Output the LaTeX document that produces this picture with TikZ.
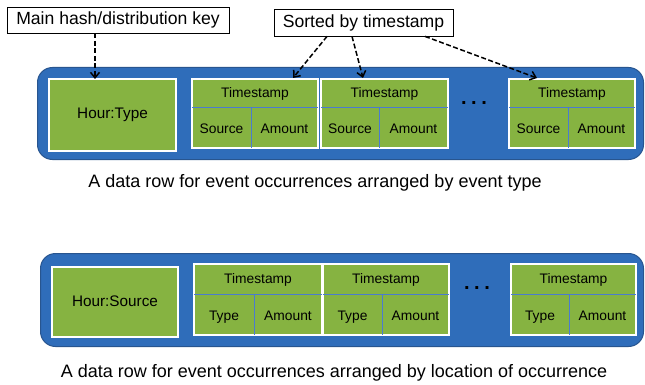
\documentclass[tikz,border=0pt]{standalone}
\usepackage{fontspec}
\setmainfont{Liberation Sans}
\usetikzlibrary{arrows.meta,calc}
\definecolor{rowblue}{HTML}{2F6DBA}
\definecolor{rowedge}{HTML}{28558F}
\definecolor{cellgreen}{HTML}{86B341}
\definecolor{divblue}{HTML}{4A7BD0}
\tikzset{
  rowbox/.style={draw=rowedge, fill=rowblue, line width=1pt, rounded corners=15pt},
  keybox/.style={draw=white, fill=cellgreen, line width=2.5pt, inner sep=0pt, outer sep=0pt, anchor=north west},
  keytext/.style={font=\fontsize{15.3}{17}\selectfont, inner sep=0pt, text height=11pt, text depth=3pt},
  cellbox/.style={draw=white, fill=cellgreen, line width=2.5pt, inner sep=0pt, outer sep=0pt, anchor=north west},
  celltext/.style={font=\fontsize{13.8}{16}\selectfont, inner sep=0pt, text height=10pt, text depth=3pt},
  divline/.style={draw=divblue, line width=0.8pt},
  labelbox/.style={draw=black, fill=white, line width=0.8pt, inner sep=0pt, font=\fontsize{17.6}{20}\selectfont},
  caption/.style={font=\fontsize{18}{20}\selectfont, inner sep=0pt},
  dots/.style={font=\fontsize{20}{22}\selectfont\bfseries, inner sep=0pt},
  arr/.style={line width=1.5pt, dash pattern=on 5pt off 2.5pt, -{Straight Barb[length=5.5pt,width=9pt]}}
}
% name, x, y, width, height, divider offset y, divider offset x, second label
\newcommand\mkcell[8]{%
  \node[cellbox, minimum width=#4pt, minimum height=#5pt] (#1) at (#2,#3) {};
  \draw[divline] ([yshift=-#6pt]#1.north west) -- ([yshift=-#6pt]#1.north east);
  \draw[divline] ([xshift=#7pt,yshift=-#6pt]#1.north west) -- ([xshift=#7pt]#1.south west);
  \node[celltext, yshift=-1pt] (#1t) at ($([yshift=-#6pt]#1.north west)!0.5!(#1.north east)$) {Timestamp};
  \node[celltext, yshift=-2.5pt] (#1s) at ($([yshift=-#6pt]#1.north west)!0.5!([xshift=#7pt]#1.south west)$) {#8};
  \node[celltext, yshift=-2.5pt] (#1a) at ($([xshift=#7pt,yshift=-#6pt]#1.north west)!0.5!(#1.south east)$) {Amount};
}
\begin{document}
\begin{tikzpicture}[x=1pt,y=-1pt]
\useasboundingbox (0,0) rectangle (645,385);
% top row
\node[rowbox, minimum width=606pt, minimum height=92pt, anchor=north west, inner sep=0pt] (row1) at (37,67) {};
\node[keybox, minimum width=127pt, minimum height=72pt] (hourtype) at (49,79) {};
\node[keytext] (hourtypet) at (hourtype.center) {Hour:Type};
\mkcell{ca}{192}{79}{126}{69}{28}{59}{Source}
\mkcell{cb}{321}{79}{127}{69}{28}{58}{Source}
\mkcell{cc}{509}{79}{126}{69}{28}{59}{Source}
\node[dots] (dots1) at (474,103) {.\hspace{4.5pt}.\hspace{4.5pt}.};
% labels
\node[labelbox, minimum width=222pt, minimum height=26pt] (mainkey) at (118,20) {Main hash/distribution key};
\node[labelbox, minimum width=179pt, minimum height=27pt] (sorted) at (363.5,22.5) {Sorted by timestamp};
\draw[arr] ([xshift=-23pt]mainkey.south) -- ([xshift=-23pt]mainkey.south |- hourtype.north);
\draw[arr] ([xshift=-36.5pt]sorted.south) -- ([xshift=38pt,yshift=1pt]ca.north);
\draw[arr] ([xshift=-11.5pt]sorted.south) -- ([xshift=-21.5pt,yshift=1pt]cb.north);
\draw[arr] ([xshift=61.5pt]sorted.south) -- ([xshift=-35pt,yshift=1pt]cc.north);
\node[caption] (cap1) at (315,183) {A data row for event occurrences arranged by event type};
% bottom row
\node[rowbox, minimum width=603pt, minimum height=93pt, anchor=north west, inner sep=0pt] (row2) at (40,253) {};
\node[keybox, minimum width=126pt, minimum height=70pt] (hoursource) at (52,267) {};
\node[keytext] (hoursourcet) at (hoursource.center) {Hour:Source};
\mkcell{cd}{194}{264}{128}{71}{30}{60}{Type}
\mkcell{ce}{323}{264}{126}{71}{30}{59}{Type}
\mkcell{cf}{511}{264}{125}{71}{30}{58}{Type}
\node[dots] (dots2) at (477,288) {.\hspace{4.5pt}.\hspace{4.5pt}.};
\node[caption] (cap2) at (334,373) {A data row for event occurrences arranged by location of occurrence};
\end{tikzpicture}
\end{document}
